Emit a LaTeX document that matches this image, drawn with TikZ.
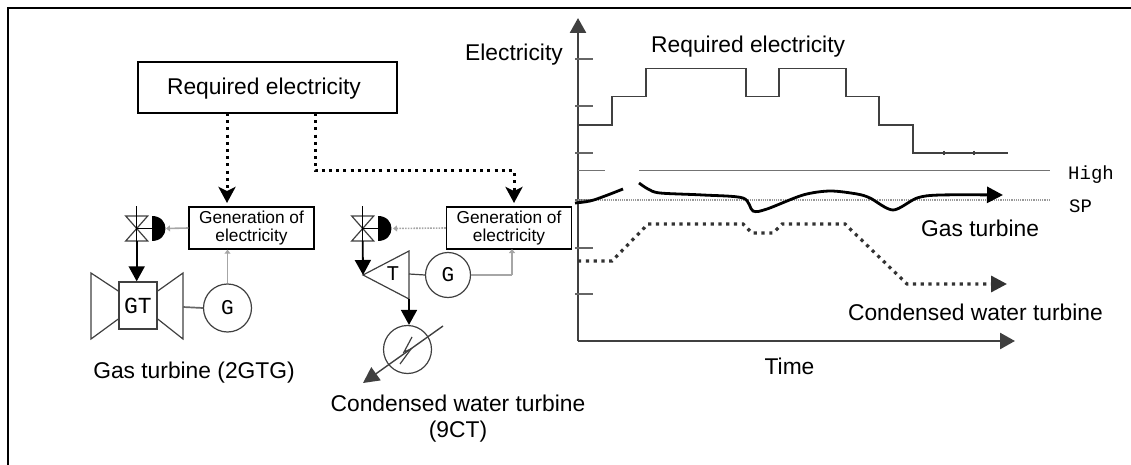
\documentclass[tikz,border=0pt]{standalone}
\usepackage{fontspec}
\setmainfont{Liberation Sans}
\newfontfamily\gothic{Liberation Mono}
\usetikzlibrary{arrows.meta,positioning}
\definecolor{axisgray}{gray}{0.25}
\definecolor{signalgray}{gray}{0.65}
\tikzset{
  bigtext/.style={font=\fontsize{22.8}{26}\selectfont,inner sep=0pt},
  gothictext/.style={font=\gothic\fontsize{19}{22}\selectfont,inner sep=0pt},
  genbox/.style={draw,line width=1.4pt,minimum width=125pt,minimum height=42pt,inner sep=0pt,align=center,font=\fontsize{17.3}{18}\selectfont},
  machine/.style={draw=black!75,line width=1.2pt,circle,minimum size=46pt,inner sep=0pt,font=\gothic\fontsize{21}{22}\selectfont},
  demand/.style={line width=3pt,dash pattern=on 3pt off 4.2pt,-{Stealth[length=16pt,width=17pt,inset=4pt]}},
  steam/.style={line width=1.8pt,-{Triangle[length=15pt,width=16pt]}},
  signal/.style={signalgray,line width=1.6pt,-{Triangle[length=4pt,width=6pt]}},
  plain/.style={draw=black!75,line width=1.2pt},
  tick/.style={axisgray!80,line width=1.8pt},
  axis/.style={axisgray,line width=2.6pt,-{Triangle[length=15pt,width=16pt]}}
}
\begin{document}
\begin{tikzpicture}[x=1pt,y=-1pt]
  \useasboundingbox (0,0) rectangle (1131,465);
  % open frame
  \coordinate (frameA) at (8,465);
  \coordinate (frameB) at (8,8);
  \coordinate (frameC) at (1131,8);
  \draw[line width=1.5pt] (frameA) -- (frameB) -- (frameC);

  % boxes
  \node[draw,line width=1.5pt,minimum width=259pt,minimum height=51pt,inner sep=0pt] (reqbox) at (267.5,87.5) {};
  \node[bigtext,anchor=base] (reqtext) at (264,94.6) {Required electricity};
  \node[genbox] (genA) at (251.5,228) {Generation of\\electricity};
  \node[genbox] (genB) at (509,228) {Generation of\\electricity};

  % demand signals
  \coordinate (tapA) at (227,113);
  \coordinate (dropA) at (227,203);
  \coordinate (tapB) at (315,113);
  \coordinate (cornerA) at (315,171);
  \coordinate (cornerB) at (514,171);
  \coordinate (dropB) at (514,203);
  \draw[demand] (tapA) -- (dropA);
  \draw[demand] (tapB) -- (cornerA) -- (cornerB) -- (dropB);

  % valves and actuators
  \foreach \vx/\vn in {136.7/A,362.7/B}{
    \coordinate (stem\vn) at (\vx,206);
    \coordinate (valve\vn) at (\vx,228.5);
    \coordinate (valveout\vn) at (\vx,241);
    \draw[plain] (\vx-11,216) -- (\vx+11,216) -- (\vx-11,241) -- (\vx+11,241) -- cycle;
    \draw[line width=1.3pt] (stem\vn) -- (valveout\vn);
    \draw[line width=1.3pt] (valve\vn) -- ++(17,0);
    \fill (\vx+15.5,216) .. controls (\vx+33,216) and (\vx+33,241) .. (\vx+15.5,241) -- cycle;
  }
  \coordinate (actA) at (166,228.5);
  \coordinate (actB) at (393,228.5);
  \draw[signal] (genA.west) -- (actA);
  \draw[signal,dash pattern=on 1.6pt off 1.2pt] (genB.west) -- (actB);

  % gas turbine
  \node[draw=black!75,line width=1.4pt,minimum width=38pt,minimum height=47pt,inner sep=0pt,font=\gothic\fontsize{23}{24}\selectfont] (gt) at (138,305.5) {GT};
  \draw[plain] (gt.west |- 0,291) -- (91,273) -- (91,339) -- (gt.west |- 0,319);
  \draw[plain] (gt.east |- 0,291) -- (183,273) -- (183,339) -- (gt.east |- 0,319);
  \coordinate (gtshaft) at (183,307);
  \node[machine,minimum size=48pt] (drvA) at (227.5,308) {G};
  \draw[line width=1.7pt,black!60] (gtshaft) -- (drvA.west);
  \draw[steam] (valveoutA) -- (valveoutA |- gt.north);
  \draw[signal,line width=1.8pt] (drvA.north) -- (drvA.north |- genA.south);
  \node[bigtext,anchor=base] (gtlabel) at (194,378) {Gas turbine (2GTG)};

  % condensing turbine
  \coordinate (tA) at (363,275);
  \coordinate (tB) at (409,251);
  \coordinate (tC) at (409,299);
  \draw[plain] (tA) -- (tB) -- (tC) -- cycle;
  \node[gothictext,font=\gothic\fontsize{21}{22}\selectfont] (tlabel) at (393,274) {T};
  \node[machine,minimum size=45pt] (drvB) at (448,275) {G};
  \coordinate (tshaft) at (409,274);
  \coordinate (sigcorner) at (512,275);
  \coordinate (sigend) at (512,249);
  \draw[line width=1.2pt,black!75] (tshaft) -- (drvB.west);
  \draw[signalgray,line width=1.5pt] (drvB.east) -- (sigcorner);
  \draw[signal] (sigcorner) -- (sigend);
  \draw[steam] (valveoutB) -- (tA);
  \node[machine,minimum size=48pt] (cond) at (407.5,349.5) {};
  \draw[steam] (tC) -- (cond.north -| tC);
  \coordinate (coolin) at (443,326);
  \coordinate (coolout) at (363,383);
  \draw[line width=1.4pt,black!75,-{Triangle[length=16pt,width=16pt]}] (coolin) -- (coolout);
  \draw[line width=1.2pt,black!75] (412,337) -- (404,352) -- (411,349) -- (400,364);
  \node[bigtext,align=center,anchor=base,font=\fontsize{22.8}{26}\selectfont] (ctlabel) at (458,437) {Condensed water turbine\\(9CT)};

  % chart axes
  \coordinate (origin) at (578,341);
  \coordinate (ytop) at (578,18);
  \coordinate (xend) at (1015,341);
  \draw[axis] (origin) -- (ytop);
  \draw[axis] (origin) -- (xend);
  \foreach \ty in {59,106,153,200,248,294}{
    \draw[tick] (575,\ty) -- (593,\ty);
  }
  \foreach \tx in {944,974}{
    \draw[axisgray,line width=1.4pt] (\tx,151) -- (\tx,155);
  }

  % limit lines
  \coordinate (highA) at (578,170.5);
  \coordinate (highB) at (605,170.5);
  \coordinate (highC) at (639,170.5);
  \coordinate (highD) at (1050,170.5);
  \coordinate (spA) at (578,200);
  \coordinate (spB) at (1051,200);
  \draw[black!55,line width=1pt] (highA) -- (highB) (highC) -- (highD);
  \draw[black!40,line width=1.8pt,dash pattern=on 1.2pt off 1pt] (spA) -- (spB);

  % required electricity
  \draw[axisgray,line width=1.9pt] (578,125) -- (612,125) -- (612,96.5) -- (645.7,96.5) -- (645.7,68.5)
    -- (746,68.5) -- (746,96.5) -- (779,96.5) -- (779,68.5) -- (846,68.5) -- (846,96.5) -- (879,96.5)
    -- (879,125) -- (913,125) -- (913,153) -- (1008,153);

  % gas turbine trend
  \draw[line width=2.8pt] plot[smooth,tension=0.6] coordinates {(575,203) (590,201) (605,196) (623,189)};
  \draw[line width=2.8pt,-{Triangle[length=16pt,width=16pt]}] plot[smooth,tension=0.5] coordinates {(639,183) (648,189) (660,193) (703,195) (743,198) (753,211) (767,209) (803,195) (830,191) (857,194) (870,198) (893,210) (917,198) (940,195) (1003,195)};

  % condensed water turbine trend
  \draw[line width=3.2pt,black!80,dash pattern=on 3.2pt off 4.6pt,-{Triangle[length=16pt,width=16pt]}] (578,261) -- (612,261) -- (648,224) -- (743,224) -- (752,233) -- (773,233) -- (782,224) -- (845,224) -- (907,284) -- (1007,284);

  % chart labels
  \node[bigtext,anchor=base west] (ylabel) at (465,61) {Electricity};
  \node[bigtext,anchor=base west] (reqlabel) at (651,53) {Required electricity};
  \node[bigtext,anchor=base] (xlabel) at (789.5,374) {Time};
  \node[bigtext,anchor=base west] (gaslabel) at (921,236) {Gas turbine};
  \node[bigtext,anchor=base east] (condlabel) at (1103,320) {Condensed water turbine};
  \node[gothictext,anchor=base west] (highlabel) at (1068,179) {High};
  \node[gothictext,anchor=base west] (splabel) at (1069,212) {SP};
\end{tikzpicture}
\end{document}
